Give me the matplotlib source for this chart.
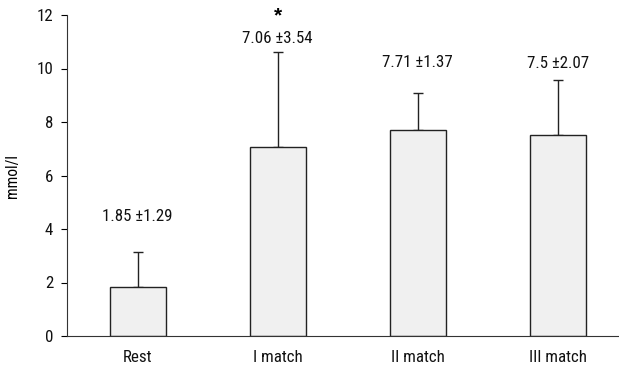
import matplotlib
matplotlib.use("Agg")
import matplotlib.pyplot as plt

categories = ["Rest", "I match", "II match", "III match"]
means = [1.85, 7.06, 7.71, 7.5]
sds = [1.29, 3.54, 1.37, 2.07]
labels = ["1.85 \u00b11.29", "7.06 \u00b13.54", "7.71 \u00b11.37", "7.5 \u00b12.07"]
yticks = [0, 2, 4, 6, 8, 10, 12]

label_y = [4.45, 11.14, 10.24, 10.2]

plt.rcParams['font.family'] = ['Roboto Condensed', 'Liberation Sans', 'DejaVu Sans']
fs = 12.2

fig = plt.figure(figsize=(6.19, 3.70), dpi=100)
ax = fig.add_axes([67/619, 1-336/370, (619-67)/619, (336-15)/370])

x = list(range(len(categories)))
ax.bar(x, means, width=0.4, color="#f0f0f0", edgecolor="#222222", linewidth=1.0, zorder=2)
ax.errorbar(x, means, yerr=[[0]*len(sds), sds], fmt="none", ecolor="#222222",
            elinewidth=1.0, capsize=3.3, capthick=1.0, zorder=1)

for xi, ly, t in zip(x, label_y, labels):
    ax.text(xi, ly, t, ha="center", va="center", fontsize=fs, color="#111111")
ax.text(1, 11.95, "*", ha="center", va="center", fontsize=15, fontweight="bold",
        family=['Liberation Sans', 'DejaVu Sans'])

ax.set_xlim(-0.505, 3.438)
ax.set_ylim(0, 12)
ax.set_yticks(yticks)
ax.set_xticks(x)
ax.set_xticklabels(categories, fontsize=fs, color="#111111")
ax.tick_params(axis="x", length=0, pad=10)
ax.tick_params(axis="y", length=4, width=0.8, labelsize=fs, pad=6, labelcolor="#111111")
ax.spines["top"].set_visible(False)
ax.spines["right"].set_visible(False)
ax.spines["left"].set_color("#333333")
ax.spines["bottom"].set_color("#333333")
ax.set_ylabel("mmol/l", fontsize=fs - 1, labelpad=12)
ax.patch.set_alpha(0)

fig.savefig("out.png", dpi=100)
